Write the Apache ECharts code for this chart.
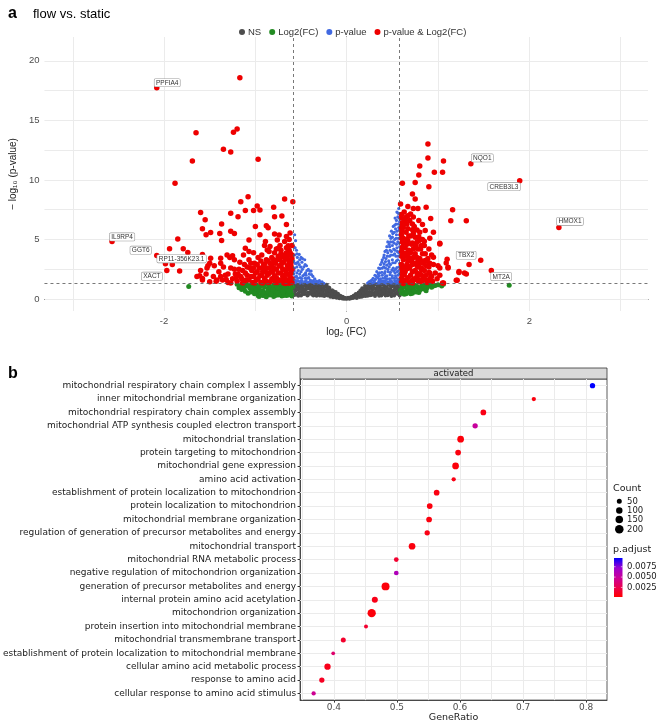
<!DOCTYPE html>
<html>
<head>
<meta charset="utf-8">
<script src="https://cdn.jsdelivr.net/npm/echarts@6/dist/echarts.min.js"></script>
<style>
  html, body { margin: 0; padding: 0; background: #fff; }
  #main { width: 660px; height: 724px; }
</style>
</head>
<body>
<div id="main"></div>
<script>
// ---- panel a: volcano (log2 FC, -log10 p) ----
var nsPoints = [
  [-0.57,0.35],[-0.56,0.72],[-0.55,1.05],[-0.54,1.22],[-0.53,0.5],[-0.52,0.9],[-0.5,0.3],[-0.5,1.15],[-0.49,0.65],[-0.48,0.95],
  [-0.46,0.42],[-0.46,1.25],[-0.45,0.78],[-0.44,1.05],[-0.43,0.3],[-0.42,0.55],[-0.41,0.92],[-0.4,1.2],[-0.39,0.7],[-0.38,0.38],
  [-0.37,1.02],[-0.36,0.85],[-0.35,0.5],[-0.34,1.24],[-0.33,0.28],[-0.32,0.68],[-0.31,0.98],[-0.3,0.45],[-0.29,1.15],[-0.28,0.82],
  [-0.27,0.3],[-0.26,0.6],[-0.25,1.0],[-0.24,0.4],[-0.23,0.75],[-0.22,1.2],[-0.58,0.9],[-0.57,1.18],[-0.53,0.28],[-0.47,0.58],
  [-0.21,0.3],[-0.2,0.62],[-0.19,0.95],[-0.18,0.2],[-0.17,0.45],[-0.16,0.75],[-0.15,0.15],[-0.14,0.5],[-0.13,0.3],[-0.12,0.6],
  [-0.11,0.12],[-0.1,0.38],[-0.09,0.22],[-0.08,0.08],[-0.07,0.28],[-0.06,0.15],[-0.05,0.05],[-0.04,0.12],[-0.03,0.03],[-0.02,0.08],
  [0,0.02],[0.01,0.06],[0.02,0.1],[0.03,0.03],[0.04,0.14],[0.05,0.06],[0.06,0.2],[0.07,0.1],[0.08,0.3],[0.09,0.16],
  [0.1,0.42],[0.11,0.1],[0.12,0.28],[0.13,0.55],[0.14,0.18],[0.15,0.72],[0.16,0.38],[0.17,0.9],[0.18,0.25],[0.19,0.6],
  [0.2,1.1],[0.21,0.4],[0.22,0.85],[0.23,0.28],[0.24,1.22],[0.25,0.6],[0.26,0.95],[0.27,0.35],[0.28,0.78],[0.29,1.12],
  [0.3,0.5],[0.31,0.25],[0.32,0.88],[0.33,1.25],[0.34,0.62],[0.35,0.4],[0.36,1.05],[0.37,0.75],[0.38,0.3],[0.39,0.55],
  [0.4,1.2],[0.41,0.9],[0.42,0.45],[0.43,0.7],[0.44,1.0],[0.45,0.33],[0.46,0.6],[0.47,1.25],[0.48,0.85],[0.49,0.45],
  [0.5,1.08],[0.51,0.68],[0.52,0.3],[0.53,0.95],[0.54,0.52],[0.55,1.2],[0.56,0.8],[0.57,0.4],[0.58,1.05],[0.57,0.62],
  [0.49,0.25],[0.35,0.95],[0.27,1.05],
  [-0.575,0.55],[-0.565,0.95],[-0.545,0.38],[-0.535,0.8],[-0.525,1.12],[-0.515,0.6],[-0.505,1.28],[-0.495,0.85],[-0.485,0.4],[-0.475,1.1],
  [-0.465,0.75],[-0.455,0.55],[-0.445,1.25],[-0.435,0.88],[-0.425,0.35],[-0.415,1.12],[-0.405,0.5],[-0.395,0.95],[-0.385,1.28],[-0.375,0.6],
  [-0.365,0.3],[-0.355,1.15],[-0.345,0.75],[-0.335,0.95],[-0.325,0.45],[-0.315,1.25],[-0.305,0.72],[-0.295,0.3],[-0.285,1.02],[-0.275,0.55],
  [-0.265,1.25],[-0.255,0.82],[-0.245,0.25],[-0.235,1.05],[-0.225,0.5],[-0.215,0.8],
  [-0.205,1.0],[-0.195,0.4],[-0.185,0.72],[-0.175,0.3],[-0.165,0.55],[-0.155,0.35],[-0.145,0.65],[-0.135,0.18],[-0.125,0.42],[-0.105,0.25],
  [-0.095,0.45],[-0.085,0.15],[-0.065,0.2],[-0.045,0.2],[-0.025,0.12],[-0.01,0.04],[0.015,0.12],[0.035,0.08],[0.055,0.17],[0.075,0.25],
  [0.095,0.3],[0.105,0.18],[0.125,0.45],[0.145,0.35],[0.155,0.55],[0.165,0.2],[0.175,0.62],[0.185,0.45],[0.195,0.85],[0.205,0.25],
  [0.215,0.65],
  [0.225,1.05],[0.235,0.5],[0.245,0.85],[0.255,0.32],[0.265,1.15],[0.275,0.6],[0.285,0.4],[0.295,0.92],[0.305,1.25],[0.315,0.62],
  [0.325,0.42],[0.335,1.0],[0.345,0.8],[0.355,0.28],[0.365,0.55],[0.375,1.22],[0.385,0.9],[0.395,0.42],[0.405,0.7],[0.415,1.1],
  [0.425,0.3],[0.435,0.92],[0.445,0.55],[0.455,1.2],[0.465,0.8],[0.475,0.4],[0.485,1.05],[0.495,0.65],[0.505,0.38],[0.515,1.22],
  [0.525,0.78],[0.535,0.45],[0.545,1.0],[0.555,0.6],[0.565,1.25],[0.575,0.85],[0.58,0.3]
];
var fcPoints = [
  [-1.2,1.25],[-1.17,1.1],[-1.14,1.22],[-1.12,1.0],[-1.09,1.15],[-1.06,0.9],[-1.04,1.25],[-1.02,0.75],[-1.0,1.05],[-0.98,0.55],
  [-0.97,0.3],[-0.96,0.9],[-0.94,1.2],[-0.93,0.4],[-0.92,0.7],[-0.9,1.0],[-0.89,0.25],[-0.88,0.55],[-0.86,0.85],[-0.85,1.15],
  [-0.84,0.35],[-0.82,0.65],[-0.81,1.0],[-0.8,0.22],[-0.79,0.5],[-0.77,0.8],[-0.76,1.2],[-0.75,0.35],[-0.73,0.6],[-0.72,0.95],
  [-0.71,0.25],[-0.7,1.1],[-0.69,0.5],[-0.67,0.75],[-0.66,0.3],[-0.65,1.0],[-0.64,0.55],[-0.63,1.25],[-0.62,0.8],[-0.61,0.38],
  [-0.6,0.6],[-0.59,1.05],[-0.6,0.25],[-0.74,1.25],[-0.87,1.28],[-1.73,1.06],
  [-1.1,1.28],[-1.07,1.08],[-1.03,0.95],[-0.99,0.8],[-0.95,0.65],[-0.91,0.5],[-0.87,0.35],[-0.83,0.9],[-0.78,0.3],[-0.74,0.85],
  [-0.68,0.95],[-0.62,0.45],[-0.66,1.22],[-0.71,0.7],[-0.8,1.18],[-0.91,1.25],
  [-1.18,0.95],[-1.15,0.8],[-1.11,0.65],[-1.08,0.5],[-1.05,0.6],[-1.01,0.45],[-0.96,0.22],[-0.92,0.3],[-0.88,0.2],[-0.86,0.6],
  [-0.83,0.45],[-0.78,0.65],[-0.75,0.5],[-0.72,0.4],[-0.69,0.3],[-0.68,0.8],[-0.64,0.35],[-0.61,0.9],[-0.63,0.65],[-0.7,0.6],
  [-0.76,0.95],[-0.81,0.8],[-0.95,1.05],[-0.99,1.2],[-1.13,1.25],
  [0.6,1.2],[0.61,0.9],[0.62,0.6],[0.63,1.05],[0.65,0.45],[0.66,0.8],[0.67,1.2],[0.69,0.65],[0.7,1.0],[0.72,0.5],
  [0.73,0.85],[0.75,1.15],[0.76,0.6],[0.78,0.95],[0.8,0.75],[0.82,1.1],[0.84,0.85],[0.86,1.2],[0.88,0.95],[0.9,1.15],
  [0.93,1.0],[0.97,1.15],[1.0,1.2],[1.04,1.1],[1.06,1.25],[0.6,0.5],[0.64,1.25],[0.71,1.25],[1.78,1.17],
  [0.59,0.75],[0.62,1.15],[0.63,0.4],[0.66,0.55],[0.68,0.9],[0.7,0.45],[0.74,0.7],[0.77,1.05],[0.79,0.55],[0.81,0.9],
  [0.85,1.05],[0.87,0.7],[0.92,1.22],[0.95,1.1]
];
var pvPoints = [
  [-0.57,5.4],[-0.56,4.9],[-0.58,4.4],[-0.55,4.1],[-0.57,3.7],[-0.54,3.5],[-0.58,3.2],[-0.52,3.75],[-0.5,3.5],[-0.55,3.0],
  [-0.52,2.9],[-0.49,3.1],[-0.46,3.3],[-0.47,2.7],[-0.57,2.6],[-0.53,2.4],[-0.5,2.3],[-0.44,2.8],[-0.42,2.5],[-0.45,2.2],
  [-0.58,2.1],[-0.55,1.9],[-0.51,1.8],[-0.48,1.95],[-0.41,2.1],[-0.39,2.35],[-0.37,1.9],[-0.43,1.75],[-0.57,1.6],[-0.53,1.5],
  [-0.49,1.55],[-0.46,1.45],[-0.4,1.6],[-0.35,1.7],[-0.33,1.5],[-0.3,1.55],[-0.28,1.4],[-0.38,1.42],[-0.43,1.38],[-0.56,1.38],
  [-0.51,1.35],[-0.25,1.33],[-0.32,1.36],
  [-0.565,4.3],[-0.545,3.8],[-0.535,3.1],[-0.515,3.3],[-0.485,3.4],[-0.565,3.0],[-0.545,2.7],[-0.505,2.7],[-0.485,2.5],[-0.455,2.9],
  [-0.435,2.4],[-0.575,2.35],[-0.545,2.2],[-0.515,2.1],[-0.465,2.05],[-0.445,2.0],[-0.405,2.35],[-0.385,2.05],[-0.565,1.85],[-0.535,1.75],
  [-0.495,1.75],[-0.455,1.75],[-0.415,1.8],[-0.365,1.55],[-0.345,1.45],[-0.315,1.4],[-0.575,1.4],[-0.545,1.55],[-0.505,1.5],[-0.475,1.35],
  [-0.445,1.55],[-0.415,1.4],[-0.395,1.55],[-0.355,1.33],[-0.285,1.33],[-0.27,1.45],
  [0.57,7.6],[0.55,7.3],[0.56,6.9],[0.53,6.8],[0.58,6.5],[0.54,6.3],[0.51,6.1],[0.57,6.0],[0.55,5.7],[0.52,5.6],
  [0.49,5.7],[0.47,5.3],[0.58,5.4],[0.5,5.2],[0.54,5.1],[0.56,4.8],[0.52,4.7],[0.48,4.8],[0.45,4.8],[0.44,4.4],
  [0.47,4.4],[0.5,4.5],[0.58,4.4],[0.55,4.3],[0.53,4.1],[0.42,4.0],[0.41,3.7],[0.45,3.9],[0.49,4.0],[0.57,3.9],
  [0.51,3.7],[0.47,3.6],[0.54,3.6],[0.39,3.3],[0.43,3.4],[0.46,3.2],[0.5,3.3],[0.56,3.3],[0.58,3.0],[0.53,3.05],
  [0.37,2.9],[0.41,2.95],[0.44,2.85],[0.48,2.9],[0.35,2.6],[0.39,2.6],[0.45,2.5],[0.51,2.6],[0.55,2.65],[0.57,2.4],
  [0.42,2.3],[0.33,2.3],[0.36,2.2],[0.48,2.25],[0.53,2.2],[0.31,2.0],[0.39,2.0],[0.44,1.95],[0.5,1.95],[0.56,2.0],
  [0.29,1.75],[0.34,1.8],[0.37,1.7],[0.42,1.75],[0.47,1.7],[0.52,1.75],[0.58,1.7],[0.26,1.5],[0.3,1.5],[0.35,1.45],
  [0.4,1.5],[0.45,1.45],[0.49,1.5],[0.54,1.5],[0.57,1.45],[0.23,1.35],[0.28,1.35],[0.33,1.33],[0.38,1.35],[0.43,1.33],
  [0.51,1.35],[0.55,1.35],
  [0.565,7.2],[0.575,6.8],[0.545,6.6],[0.525,6.2],[0.565,6.3],[0.535,5.9],[0.575,5.8],[0.505,5.5],[0.545,5.4],[0.485,5.1],
  [0.525,5.0],[0.565,5.1],[0.465,4.6],[0.505,4.8],[0.545,4.6],[0.575,4.7],[0.435,4.1],[0.475,4.1],[0.515,4.2],[0.555,4.0],
  [0.405,3.5],[0.445,3.6],[0.485,3.7],[0.525,3.8],[0.565,3.6],[0.385,3.1],[0.425,3.15],[0.465,3.0],[0.505,3.05],[0.545,3.2],
  [0.365,2.55],[0.405,2.7],[0.425,2.6],[0.465,2.7],[0.495,2.45],[0.535,2.5],[0.575,2.7],[0.345,2.1],[0.385,2.25],[0.415,2.15],
  [0.455,2.3],[0.515,2.35],[0.555,2.3],[0.325,1.9],[0.355,1.95],[0.425,1.9],[0.475,2.05],[0.535,1.95],[0.575,2.1],[0.275,1.6],
  [0.315,1.65],[0.355,1.6],[0.395,1.75],[0.445,1.7],[0.495,1.75],[0.545,1.75],[0.245,1.45],[0.375,1.5],[0.425,1.55],[0.475,1.5],
  [0.525,1.55],[0.565,1.6],[0.255,1.33],[0.305,1.38],[0.355,1.36],[0.405,1.38],[0.455,1.35],[0.485,1.35],[0.535,1.36],[0.575,1.33]
];
var bothPoints = [
  // left, dense
  [-0.6,1.4],[-0.62,1.9],[-0.6,2.5],[-0.61,3.1],[-0.6,3.7],[-0.63,4.1],[-0.65,1.6],[-0.66,2.2],[-0.65,2.8],[-0.67,3.4],
  [-0.69,1.35],[-0.7,1.9],[-0.7,2.5],[-0.71,3.0],[-0.72,3.8],[-0.74,1.6],[-0.75,2.2],[-0.74,2.8],[-0.76,3.3],[-0.78,1.4],
  [-0.79,1.95],[-0.8,2.6],[-0.79,3.9],[-0.82,1.7],[-0.83,2.3],[-0.84,3.0],[-0.82,3.5],[-0.86,1.4],[-0.87,2.0],[-0.88,2.6],
  [-0.88,3.3],[-0.9,1.7],[-0.92,2.3],[-0.91,2.9],[-0.94,1.4],[-0.95,1.95],[-0.96,2.6],[-0.97,3.5],[-0.99,1.6],[-1.0,2.2],
  [-1.01,3.0],[-1.03,1.4],[-1.05,1.9],[-1.06,2.6],[-1.07,3.3],[-1.1,1.6],[-1.11,2.2],[-1.12,2.9],[-1.14,1.35],[-1.16,1.9],
  [-1.18,2.5],[-1.2,1.5],[-1.22,2.1],[-1.25,1.7],[-1.27,2.6],[-1.3,1.4],[-1.33,2.0],[-1.36,1.6],[-1.4,2.3],[-1.43,1.5],
  [-1.46,1.9],[-1.5,1.45],[-1.45,2.8],[-1.38,3.0],[-1.54,2.1],[-1.52,2.8],[-1.58,1.6],[-1.6,2.4],[-1.64,1.9],[-1.17,3.1],
  [-1.23,3.3],[-0.93,3.7],[-0.85,4.0],[-0.66,4.3],[-1.02,3.9],[-1.13,3.7],[-0.77,4.2],[-0.61,2.2],[-0.68,1.7],[-0.73,4.5],
  [-0.64,3.3],[-0.7,3.55],[-0.63,1.32],[-0.66,3.9],[-0.85,2.15],[-0.94,3.2],[-1.02,2.6],[-1.27,1.35],[-1.35,2.7],[-1.28,3.5],
  [-0.6,4.5],[-0.63,5.0],[-0.72,4.1],[-0.9,4.5],
  [-0.6,1.7],[-0.61,2.8],[-0.6,3.4],[-0.62,3.9],[-0.64,1.45],[-0.63,2.05],[-0.64,2.55],[-0.63,3.0],[-0.65,3.6],[-0.67,1.3],
  [-0.68,2.0],[-0.67,2.45],[-0.69,3.1],[-0.68,3.7],[-0.71,1.55],[-0.72,2.2],[-0.72,2.75],[-0.73,3.3],[-0.76,1.4],[-0.77,1.8],
  [-0.77,2.5],[-0.78,3.0],[-0.75,3.6],[-0.8,1.6],[-0.81,2.3],[-0.82,2.9],[-0.8,3.3],[-0.84,1.45],[-0.85,2.6],[-0.86,3.2],
  [-0.89,1.55],[-0.89,2.3],[-0.9,2.95],[-0.92,1.35],[-0.93,2.0],[-0.93,2.6],[-0.97,1.7],[-0.98,2.3],[-0.98,2.9],[-1.01,1.35],
  [-1.02,1.9],[-1.04,2.4],[-1.05,3.0],[-1.07,1.6],[-1.09,2.0],[-1.09,2.7],[-1.12,1.5],[-1.14,2.4],[-1.15,1.7],[-1.19,2.1],
  [-1.21,1.8],[-1.23,2.5],[-1.3,2.1],[-1.32,1.65],[-1.38,1.9],[-1.42,1.6],
  // left, scattered
  [-1.17,18.58],[-1.65,13.97],[-1.2,14.28],[-1.24,14.0],[-1.35,12.57],[-1.27,12.35],[-1.69,11.59],[-0.97,11.73],[-1.88,9.72],[-1.08,8.6],
  [-1.16,8.18],[-0.68,8.4],[-0.59,8.18],[-0.98,7.82],[-1.11,7.43],[-1.02,7.43],[-0.95,7.48],[-0.8,7.71],[-1.6,7.26],[-1.27,7.2],
  [-1.19,6.92],[-0.79,6.92],[-0.71,6.98],[-1.55,6.65],[-1.37,6.31],[-1.0,6.09],[-0.88,6.15],[-0.86,5.98],[-0.66,6.26],[-1.58,5.9],
  [-1.49,5.58],[-1.54,5.4],[-1.39,5.5],[-1.27,5.7],[-1.23,5.5],[-0.79,5.47],[-0.95,5.4],[-0.74,5.37],[-0.66,5.26],[-0.62,5.55],
  [-1.85,5.05],[-1.37,4.91],[-1.07,4.97],[-0.89,4.83],[-0.76,4.97],[-0.68,4.83],[-1.94,4.22],[-1.79,4.22],[-1.74,3.91],[-1.58,3.74],
  [-1.49,3.43],[-1.38,3.43],[-1.31,3.71],[-1.25,3.63],[-1.11,4.27],[-1.07,4.0],[-0.84,4.41],[-0.87,4.13],[-0.75,4.27],[-0.64,4.47],
  [-1.91,2.9],[-1.83,2.35],[-1.61,1.95],[-1.58,1.73],[-1.53,2.6],[-1.5,3.0],
  // right, dense
  [0.6,1.45],[0.61,2.0],[0.6,2.6],[0.62,3.3],[0.6,4.0],[0.61,4.8],[0.6,5.4],[0.6,6.0],[0.6,6.8],[0.65,1.6],
  [0.64,2.3],[0.66,2.9],[0.65,3.6],[0.64,4.3],[0.66,5.0],[0.65,5.6],[0.66,6.3],[0.69,1.4],[0.7,2.0],[0.69,2.6],
  [0.71,3.2],[0.7,3.9],[0.71,4.6],[0.7,5.3],[0.69,6.6],[0.74,1.7],[0.75,2.4],[0.74,3.0],[0.75,3.8],[0.76,4.5],
  [0.75,5.2],[0.74,6.1],[0.79,1.45],[0.8,2.1],[0.79,2.7],[0.8,3.4],[0.81,4.2],[0.79,4.9],[0.8,5.6],[0.84,1.7],
  [0.85,2.4],[0.84,3.0],[0.86,3.8],[0.85,4.5],[0.88,1.4],[0.9,2.7],[0.89,3.4],[0.9,4.2],[0.92,1.8],[0.95,2.9],
  [0.97,2.2],[0.63,7.3],[0.67,7.0],[0.73,6.9],[0.62,1.3],[0.72,1.35],[0.77,1.9],[0.82,2.6],[0.87,2.0],[0.94,1.5],
  [0.68,3.5],[0.63,2.7],[0.78,3.2],[0.73,4.2],[0.83,5.0],[0.93,3.7],[0.99,1.7],[1.02,2.6],[0.91,5.1],[0.62,5.1],
  [0.68,4.1],[0.77,5.8],
  [0.6,1.75],[0.61,2.3],[0.6,2.9],[0.6,3.6],[0.61,4.35],[0.6,5.1],[0.6,5.7],[0.61,6.4],[0.6,7.1],[0.63,1.55],
  [0.63,2.05],[0.62,4.7],[0.63,3.7],[0.62,6.0],[0.64,6.6],[0.67,1.8],[0.66,2.55],[0.67,3.2],[0.67,3.9],[0.66,4.6],
  [0.68,5.3],[0.67,5.9],[0.72,1.6],[0.72,2.3],[0.72,2.9],[0.73,3.5],[0.72,4.7],[0.73,5.5],[0.72,6.3],[0.77,1.6],
  [0.77,2.2],[0.77,2.8],[0.77,3.5],[0.78,4.2],[0.77,4.8],[0.82,1.5],[0.82,2.0],[0.82,3.2],[0.83,3.8],[0.82,4.5],
  [0.87,1.6],[0.87,2.8],[0.88,3.2],[0.91,2.2],[0.91,3.0],
  // right, scattered
  [0.89,13.02],[0.89,11.84],[0.8,11.17],[1.06,11.59],[0.96,10.64],[1.05,10.64],[0.79,10.42],[0.61,9.72],[0.75,9.78],[0.9,9.44],
  [0.72,8.83],[0.75,8.41],[0.59,7.99],[0.67,7.77],[0.73,7.6],[0.78,7.6],[0.87,7.71],[1.16,7.49],[0.7,7.15],[0.79,6.6],
  [0.65,6.88],[1.14,6.57],[1.31,6.57],[0.92,6.77],[0.61,6.26],[0.83,6.26],[0.72,5.81],[0.86,5.76],[0.95,5.6],[0.79,5.24],
  [0.67,4.9],[0.85,4.85],[1.02,4.63],[0.75,4.35],[0.64,3.85],[0.75,3.57],[0.86,3.24],[0.95,3.52],[0.79,3.02],[0.69,2.74],
  [0.82,2.46],[0.9,2.24],[1.0,2.8],[0.93,1.91],[1.1,3.35],[1.11,2.68],[1.23,2.24],[1.29,2.18],[1.34,2.91],[1.2,1.58],
  [1.06,1.35],[0.79,1.63],[0.9,1.58],[1.02,4.69],[1.09,3.02],[1.11,2.6],[1.23,2.31],[1.31,2.1],[1.21,1.59],[1.02,2.0],
  [1.05,1.34]
];
var labelGenes = ['PPFIA4', 'IL9RP4', 'GGT6', 'RP11-356K23.1', 'XACT', 'NQO1', 'CREB3L3', 'HMOX1', 'TBX2', 'MT2A'];
var labelX = [-2.08, -2.57, -2.08, -1.985, -1.97, 1.36, 1.895, 2.324, 1.468, 1.584];
var labelY = [17.74, 4.83, 3.66, 2.96, 2.40, 11.37, 9.94, 6.0, 3.27, 2.40];
var fcCut = 0.585, pCut = 1.3;
var volcanoGridX = [-3, -2, -1, 0, 1, 2, 3];
var volcanoGridY = [0, 2.5, 5, 7.5, 10, 12.5, 15, 17.5, 20];
var volcanoTicksX = [-2, 0, 2];
var volcanoTicksY = [0, 5, 10, 15, 20];

// ---- panel b: GO dot plot ----
var goTerms = [
  'mitochondrial respiratory chain complex I assembly',
  'inner mitochondrial membrane organization',
  'mitochondrial respiratory chain complex assembly',
  'mitochondrial ATP synthesis coupled electron transport',
  'mitochondrial translation',
  'protein targeting to mitochondrion',
  'mitochondrial gene expression',
  'amino acid activation',
  'establishment of protein localization to mitochondrion',
  'protein localization to mitochondrion',
  'mitochondrial membrane organization',
  'regulation of generation of precursor metabolites and energy',
  'mitochondrial transport',
  'mitochondrial RNA metabolic process',
  'negative regulation of mitochondrion organization',
  'generation of precursor metabolites and energy',
  'internal protein amino acid acetylation',
  'mitochondrion organization',
  'protein insertion into mitochondrial membrane',
  'mitochondrial transmembrane transport',
  'establishment of protein localization to mitochondrial membrane',
  'cellular amino acid metabolic process',
  'response to amino acid',
  'cellular response to amino acid stimulus'
];
var geneRatio = [0.810, 0.717, 0.637, 0.624, 0.601, 0.597, 0.593, 0.590, 0.563, 0.552, 0.551, 0.548,
                 0.524, 0.499, 0.499, 0.482, 0.465, 0.460, 0.451, 0.415, 0.399, 0.390, 0.381, 0.368];
var geneCount = [59, 32, 72, 59, 110, 72, 110, 32, 72, 72, 72, 59,
                 110, 42, 42, 172, 83, 189, 25, 50, 20, 95, 59, 32];
var pAdjust = [0.0096, 0.0006, 0.0008, 0.0050, 0.0005, 0.0006, 0.0005, 0.0008, 0.0007, 0.0006, 0.0006, 0.0008,
               0.0006, 0.0016, 0.0062, 0.0005, 0.0009, 0.0005, 0.0016, 0.0015, 0.0034, 0.0010, 0.0012, 0.0046];
var ratioGrid = [0.35, 0.4, 0.45, 0.5, 0.55, 0.6, 0.65, 0.7, 0.75, 0.8];
var ratioTicks = [0.4, 0.5, 0.6, 0.7, 0.8];
var legendCounts = [50, 100, 150, 200];
var padjTicks = [0.0025, 0.005, 0.0075];
var padjMin = 0.0002, padjMax = 0.0096;
var padjColors = ['#ff0000', '#ea0050', '#c9009a', '#9a00d0', '#0000ff'];

var fontA = 'Liberation Sans, Arial, sans-serif';
var fontB = 'DejaVu Sans, sans-serif';

function dotSize(count) { return 1.5 + 0.495 * Math.sqrt(count); }

// label placement for the boxed gene names (relative to the symbol box)
var labelPlace = {
  'PPFIA4': { pos: [0.5, -6], align: 'left' },
  'IL9RP4': { pos: [0.5, -5.6], align: 'left' },
  'GGT6': { pos: [-3, -6.3], align: 'right' },
  'RP11-356K23.1': { pos: [-5.5, -6], align: 'left' },
  'XACT': { pos: [-2, 4.7], align: 'right' },
  'NQO1': { pos: [3.5, -6.7], align: 'left' },
  'CREB3L3': { pos: [3, 5], align: 'right' },
  'HMOX1': { pos: [0.8, -7.3], align: 'left' },
  'TBX2': { pos: [-2.2, -5.9], align: 'right' },
  'MT2A': { pos: [2.5, 5], align: 'left' }
};

var redData = bothPoints.slice();
labelGenes.forEach(function(g, i) {
  var p = labelPlace[g];
  redData.push({
    value: [labelX[i], labelY[i]],
    name: g,
    label: {
      show: true,
      formatter: g,
      position: p.pos,
      align: p.align,
      verticalAlign: 'top',
      fontSize: 6.5,
      fontFamily: fontA,
      color: '#333',
      backgroundColor: '#fff',
      borderColor: '#999',
      borderWidth: 0.6,
      borderRadius: 1,
      padding: [0.5, 1.5, 0, 1.5]
    }
  });
});

var dotData = goTerms.map(function(t, i) {
  return [geneRatio[i], i, geneCount[i], pAdjust[i]];
});

var gridLineStyle = { color: '#ebebeb', width: 1, type: 'solid' };

var chart = echarts.init(document.getElementById('main'), null, { renderer: 'canvas' });

// colour bar + count legend (panel b)
var barX = 614, barTop = 558, barH = 39, barW = 8.5;
var graphics = [
  { type: 'rect', shape: { x: 300, y: 368, width: 307, height: 11 },
    style: { fill: '#d9d9d9', stroke: '#333', lineWidth: 0.8 } },
  { type: 'text', x: 453.5, y: 373.8,
    style: { text: 'activated', fill: '#1a1a1a', font: '8.5px ' + fontB, textAlign: 'center', textVerticalAlign: 'middle' } },
  { type: 'text', x: 613, y: 488.5,
    style: { text: 'Count', fill: '#1a1a1a', font: '9.5px ' + fontB, textVerticalAlign: 'middle' } },
  { type: 'text', x: 613, y: 549.5,
    style: { text: 'p.adjust', fill: '#1a1a1a', font: '9.5px ' + fontB, textVerticalAlign: 'middle' } },
  { type: 'rect', shape: { x: barX, y: barTop, width: barW, height: barH },
    style: { fill: new echarts.graphic.LinearGradient(0, 1, 0, 0, padjColors.map(function(c, i) {
      return { offset: i / (padjColors.length - 1), color: c };
    })) } }
];
var legendY = [501.3, 510.5, 519.5, 529.3];
legendCounts.forEach(function(c, i) {
  graphics.push({ type: 'circle', shape: { cx: 619.3, cy: legendY[i], r: dotSize(c) / 2 }, style: { fill: '#000' } });
  graphics.push({ type: 'text', x: 627, y: legendY[i],
    style: { text: String(c), fill: '#1a1a1a', font: '8.5px ' + fontB, textVerticalAlign: 'middle' } });
});
padjTicks.forEach(function(v) {
  var y = barTop + barH - (v - padjMin) / (padjMax - padjMin) * barH;
  graphics.push({ type: 'line', shape: { x1: barX, y1: y, x2: barX + 1.6, y2: y }, style: { stroke: '#fff', lineWidth: 0.6 } });
  graphics.push({ type: 'line', shape: { x1: barX + barW - 1.6, y1: y, x2: barX + barW, y2: y }, style: { stroke: '#fff', lineWidth: 0.6 } });
  graphics.push({ type: 'text', x: 627, y: y,
    style: { text: v.toFixed(4), fill: '#1a1a1a', font: '8.5px ' + fontB, textVerticalAlign: 'middle' } });
});

chart.setOption({
  animation: false,
  backgroundColor: '#fff',
  title: [
    { text: 'a', left: 3, top: 1, textStyle: { fontSize: 16, fontWeight: 'bold', fontFamily: fontA, color: '#000' } },
    { text: 'flow vs. static', left: 28, top: 3, textStyle: { fontSize: 13, fontWeight: 'normal', fontFamily: fontA, color: '#000' } },
    { text: 'b', left: 3, top: 361, textStyle: { fontSize: 16, fontWeight: 'bold', fontFamily: fontA, color: '#000' } }
  ],
  legend: {
    data: ['NS', 'Log2(FC)', 'p-value', 'p-value & Log2(FC)'],
    left: 234, top: 22,
    icon: 'circle', itemWidth: 6, itemHeight: 6, itemGap: 8,
    textStyle: { fontSize: 9.5, fontFamily: fontA, color: '#333', padding: [0, 0, 0, -2] }
  },
  grid: [
    { left: 39, top: 37, width: 609, height: 274 },
    { left: 300, top: 379, width: 307, height: 324, show: true, borderColor: '#333', borderWidth: 0.8, backgroundColor: 'transparent' }
  ],
  visualMap: [{
    type: 'continuous', show: false, seriesIndex: 4, dimension: 3,
    min: padjMin, max: padjMax, inRange: { color: padjColors }
  }],
  xAxis: [
    {
      type: 'value', gridIndex: 0, min: -3.31, max: 3.30,
      name: 'log\u2082 (FC)', nameLocation: 'middle', nameGap: 15,
      nameTextStyle: { fontSize: 10, fontFamily: fontA, color: '#222' },
      axisLine: { show: true, lineStyle: { color: '#333', width: 1 } },
      axisTick: { show: true, customValues: volcanoTicksX, length: 3, lineStyle: { color: '#333' } },
      axisLabel: { customValues: volcanoTicksX, fontSize: 9.5, fontFamily: fontA, color: '#4d4d4d', margin: 5,
        formatter: function(v) { return String(v); } },
      splitLine: { show: false }
    },
    {
      type: 'value', gridIndex: 1, min: 0.3465, max: 0.833,
      name: 'GeneRatio', nameLocation: 'middle', nameGap: 11,
      nameTextStyle: { fontSize: 9.5, fontFamily: fontB, color: '#222' },
      axisLine: { show: true, lineStyle: { color: '#333', width: 0.8 } },
      axisTick: { show: true, customValues: ratioTicks, length: 2.5, lineStyle: { color: '#333' } },
      axisLabel: { customValues: ratioTicks, fontSize: 9, fontFamily: fontB, color: '#4d4d4d', margin: 3,
        formatter: function(v) { return v.toFixed(1); } },
      splitLine: { show: false }
    }
  ],
  yAxis: [
    {
      type: 'value', gridIndex: 0, min: -1, max: 22,
      name: '\u2212 log\u2081\u2080 (p-value)', nameLocation: 'middle', nameGap: 15, nameRotate: 90,
      nameTextStyle: { fontSize: 10, fontFamily: fontA, color: '#222' },
      axisLine: { show: true, lineStyle: { color: '#333', width: 1 } },
      axisTick: { show: true, customValues: volcanoTicksY, length: 3, lineStyle: { color: '#333' } },
      axisLabel: { customValues: volcanoTicksY, fontSize: 9.5, fontFamily: fontA, color: '#4d4d4d', margin: 5 },
      splitLine: { show: false }
    },
    {
      type: 'category', gridIndex: 1, data: goTerms, inverse: true,
      axisLine: { show: true, lineStyle: { color: '#333', width: 0.8 } },
      axisTick: { show: true, alignWithLabel: true, length: 2.5, lineStyle: { color: '#333' } },
      axisLabel: { fontSize: 9, fontFamily: fontB, color: '#1a1a1a', margin: 4, interval: 0 },
      splitLine: { show: false }
    }
  ],
  series: [
    {
      name: 'NS', type: 'scatter', xAxisIndex: 0, yAxisIndex: 0,
      data: nsPoints, symbolSize: 4, itemStyle: { color: '#4d4d4d', opacity: 1 }, z: 2,
      markLine: {
        silent: true, symbol: 'none', z: 1, animation: false,
        label: { show: false },
        lineStyle: gridLineStyle,
        data: volcanoGridX.map(function(v) { return { xAxis: v }; })
          .concat(volcanoGridY.map(function(v) { return { yAxis: v }; }))
      }
    },
    {
      name: 'Log2(FC)', type: 'scatter', xAxisIndex: 0, yAxisIndex: 0,
      data: fcPoints, symbolSize: 5, itemStyle: { color: '#228b22', opacity: 1 }, z: 2
    },
    {
      name: 'p-value', type: 'scatter', xAxisIndex: 0, yAxisIndex: 0,
      data: pvPoints, symbolSize: 3.2, itemStyle: { color: '#4169e1', opacity: 1 }, z: 2
    },
    {
      name: 'p-value & Log2(FC)', type: 'scatter', xAxisIndex: 0, yAxisIndex: 0,
      data: redData, symbolSize: 5.5, itemStyle: { color: '#ee0000', opacity: 1 }, z: 2,
      markLine: {
        silent: true, symbol: 'none', z: 3, animation: false,
        label: { show: false },
        lineStyle: { color: '#555', width: 0.8, type: [3, 3] },
        data: [{ xAxis: -fcCut }, { xAxis: fcCut }, { yAxis: pCut }]
      }
    },
    {
      name: 'GO', type: 'scatter', xAxisIndex: 1, yAxisIndex: 1,
      data: dotData,
      symbolSize: function(v) { return dotSize(v[2]); },
      itemStyle: { opacity: 1 },
      z: 2,
      markLine: {
        silent: true, symbol: 'none', z: 1, animation: false,
        label: { show: false },
        lineStyle: gridLineStyle,
        data: ratioGrid.map(function(v) { return { xAxis: v }; })
          .concat(goTerms.map(function(t, i) { return { yAxis: i }; }))
      }
    }
  ],
  graphic: graphics
});
window.addEventListener('resize', function() { chart.resize(); });
</script>
</body>
</html>
